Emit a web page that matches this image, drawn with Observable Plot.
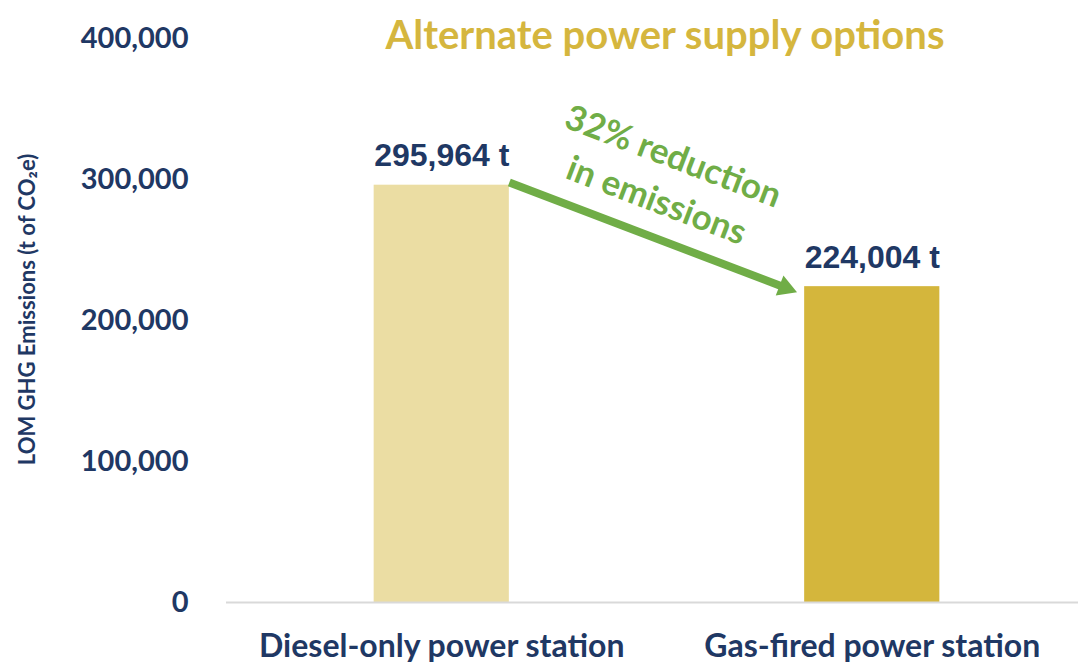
<!DOCTYPE html>
<html>
<head>
<meta charset="utf-8">
<script src="https://cdn.jsdelivr.net/npm/d3@7"></script>
<script src="https://cdn.jsdelivr.net/npm/@observablehq/plot@0.6"></script>
<style>
  body { margin: 0; background: #ffffff; }
  #wrap { position: relative; width: 1078px; height: 663px; overflow: hidden; }
  #title {
    position: absolute; left: 665px; top: 14px; transform: translateX(-50%);
    white-space: nowrap; font-family: Lato, sans-serif; font-weight: bold;
    font-size: 40px; line-height: 1; color: #D5B63E; z-index: 2;
  }
</style>
</head>
<body>
<div id="wrap"><div id="title">Alternate power supply options</div></div>
<script>
// ---- data ----
const categories = ["Diesel-only power station", "Gas-fired power station"];
const emissions = [295964, 224004];
const valueLabels = ["295,964 t", "224,004 t"];
const yTicks = [0, 100000, 200000, 300000, 400000];
const barColors = ["#EBDDA3", "#D4B63C"];
const yLabel = "LOM GHG Emissions (t of CO₂e)";
const noteText = "32% reduction\nin emissions";
// annotation anchors in data space (x = category index)
const arrowStart = [0.157, 297900];
const arrowEnd = [0.833, 219200];
const notePos = [0.521, 303000];

// ---- layout ----
const W = 1078, H = 663;
const mT = 38, mB = 61, mL = 226, mR = 0;
const xDomain = [-0.5, 1.5], xRange = [226, 1087];
const yDomain = [0, 400000];
const barHalf = 0.157;
const navy = "#1F3864", green = "#70AD47";

const data = categories.map((c, i) => ({category: c, index: i, value: emissions[i], label: valueLabels[i], color: barColors[i]}));

// arrow geometry in pixels (same mapping Plot will use)
const xs = d3.scaleLinear(xDomain, xRange);
const ys = d3.scaleLinear(yDomain, [H - mB, mT]);
const theta = Math.atan2(ys(arrowEnd[1]) - ys(arrowStart[1]), xs(arrowEnd[0]) - xs(arrowStart[0]));
const arrow = [{x1: arrowStart[0], y1: arrowStart[1], x2: arrowEnd[0], y2: arrowEnd[1]}];
const headR = 10.3;       // triangle symbol radius
const headBack = 16;      // centroid distance behind tip

const plot = Plot.plot({
  width: W, height: H,
  marginTop: mT, marginBottom: mB, marginLeft: mL, marginRight: mR,
  style: {fontFamily: "Lato, sans-serif", background: "#ffffff", overflow: "visible"},
  x: {type: "linear", domain: xDomain, range: xRange},
  y: {domain: yDomain},
  marks: [
    Plot.rectY(data, {x1: d => d.index - barHalf, x2: d => d.index + barHalf, y1: 0, y2: "value", fill: d => d.color}),
    Plot.ruleY([0], {stroke: "#D9D9D9", strokeWidth: 2}),
    Plot.axisY({ticks: yTicks, tickFormat: d3.format(","), tickSize: 0, tickPadding: 38,
      fontSize: 29, fontWeight: "bold", fill: navy, label: null}),
    Plot.axisX({ticks: [0, 1], tickFormat: i => categories[i], tickSize: 0, tickPadding: 32,
      fontSize: 32, fontWeight: "bold", fill: navy, label: null}),
    Plot.text(data, {x: "index", y: "value", text: "label", dy: -19, lineAnchor: "bottom",
      fontSize: 32, fontWeight: "bold", fontFamily: "Liberation Sans, Arial, sans-serif", fill: navy}),
    Plot.arrow(arrow, {x1: "x1", y1: "y1", x2: "x2", y2: "y2", stroke: green, strokeWidth: 8,
      headLength: 0, insetEnd: 18, strokeLinecap: "butt"}),
    Plot.dot(arrow, {x: "x2", y: "y2", symbol: "triangle2", r: headR, fill: green,
      rotate: 90 + theta * 180 / Math.PI, dx: -headBack * Math.cos(theta), dy: -headBack * Math.sin(theta)}),
    Plot.text([noteText], {x: () => notePos[0], y: () => notePos[1], text: d => d, rotate: theta * 180 / Math.PI,
      fontSize: 35, lineHeight: 1.35, fontWeight: "bold", fill: green, textAnchor: "middle", lineAnchor: "middle"}),
    Plot.text([yLabel], {frameAnchor: "left", text: d => d, dx: -199, dy: -11, rotate: -90,
      textAnchor: "middle", lineAnchor: "middle", fontSize: 22, fontWeight: "bold", fill: navy})
  ]
});
document.getElementById("wrap").appendChild(plot);
</script>
</body>
</html>
